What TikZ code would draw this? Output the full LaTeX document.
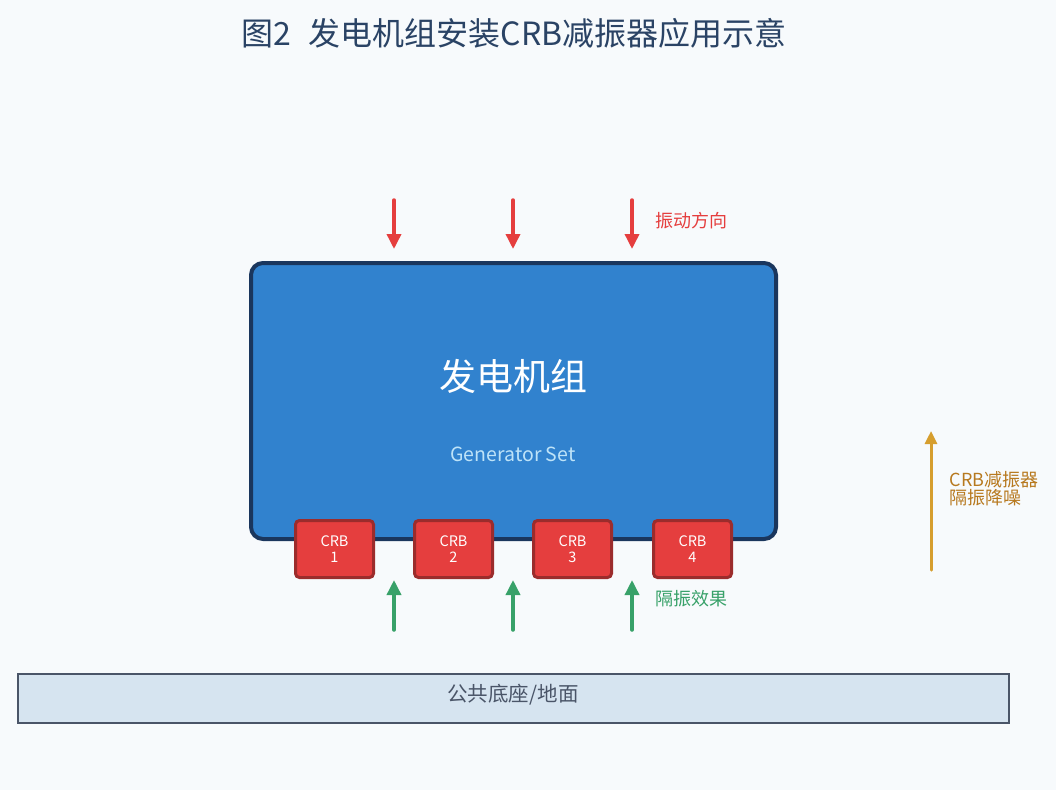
\documentclass[tikz,border=0pt]{standalone}
\usepackage{fontspec}
\setmainfont{Noto Sans CJK SC}
\usetikzlibrary{arrows.meta}

\definecolor{bgcol}{HTML}{F7FAFC}
\definecolor{titlecol}{HTML}{2A4365}
\definecolor{genfill}{HTML}{3182CE}
\definecolor{gendraw}{HTML}{1A365D}
\definecolor{gentext}{HTML}{BEE3F8}
\definecolor{crbfill}{HTML}{E53E3E}
\definecolor{crbdraw}{HTML}{9B2C2C}
\definecolor{isogreen}{HTML}{38A169}
\definecolor{noteorange}{HTML}{D69E2E}
\definecolor{notetext}{HTML}{B7791F}
\definecolor{basefill}{HTML}{D6E4F0}
\definecolor{basedraw}{HTML}{4A5568}

\tikzset{
  crb/.style={draw=crbdraw, line width=3pt, fill=crbfill, rounded corners=4pt,
    minimum width=78pt, minimum height=57pt, text=white, align=center,
    font=\fontsize{14.5}{16}\selectfont},
  vib/.style={crbfill, line width=3.5pt, line cap=round, -{Triangle[length=15pt, width=14pt]}},
  iso/.style={isogreen, line width=3.5pt, line cap=round, -{Triangle[length=15pt, width=14pt]}},
  label/.style={anchor=west, font=\fontsize{18}{21}\selectfont}
}

\begin{document}
\begin{tikzpicture}[x=1pt, y=-1pt]
    \fill[bgcol] (0,0) rectangle (1056,790);
    \node[text=titlecol, font=\fontsize{32}{36}\selectfont] (title) at (514,33) {图2\hspace{0.55em}发电机组安装CRB减振器应用示意};

    \node[draw=gendraw, line width=4pt, fill=genfill, rounded corners=12pt,
          minimum width=525pt, minimum height=276pt] (gen) at (513.5,401) {};
    \node[text=white, font=\fontsize{37}{42}\selectfont] (genzh) at (513,376) {发电机组};
    \node[text=gentext, font=\fontsize{19.5}{22}\selectfont] (genen) at (513,454) {Generator Set};

    \foreach \i/\x in {1/334.5, 2/453.5, 3/572.5, 4/692.5}
        \node[crb] (crb\i) at (\x,549) {CRB\\\i};

    \foreach \i/\x in {1/394, 2/513, 3/632} {
        \coordinate (vtop\i) at (\x,200);
        \coordinate (vbot\i) at (\x,249);
        \coordinate (itop\i) at (\x,580);
        \coordinate (ibot\i) at (\x,630);
        \draw[vib] (vtop\i) -- (vbot\i);
        \draw[iso] (ibot\i) -- (itop\i);
    }
    \node[label, text=crbfill] (viblabel) at (652,221) {振动方向};
    \node[label, text=isogreen] (isolabel) at (652,599) {隔振效果};

    \node[draw=basedraw, line width=2pt, fill=basefill,
          minimum width=991pt, minimum height=49pt] (base) at (513.5,698.5) {};
    \node[text=basedraw, font=\fontsize{20.5}{24}\selectfont] (baselabel) at (513,695) {公共底座/地面};

    \coordinate (nbot) at (931,570);
    \coordinate (ntop) at (931,431);
    \draw[noteorange, line width=3pt, line cap=round, -{Triangle[length=13pt, width=12pt]}] (nbot) -- (ntop);
    \node[label, text=notetext, align=left] (note) at (946,489) {CRB减振器\\[-3pt]隔振降噪};
\end{tikzpicture}
\end{document}
